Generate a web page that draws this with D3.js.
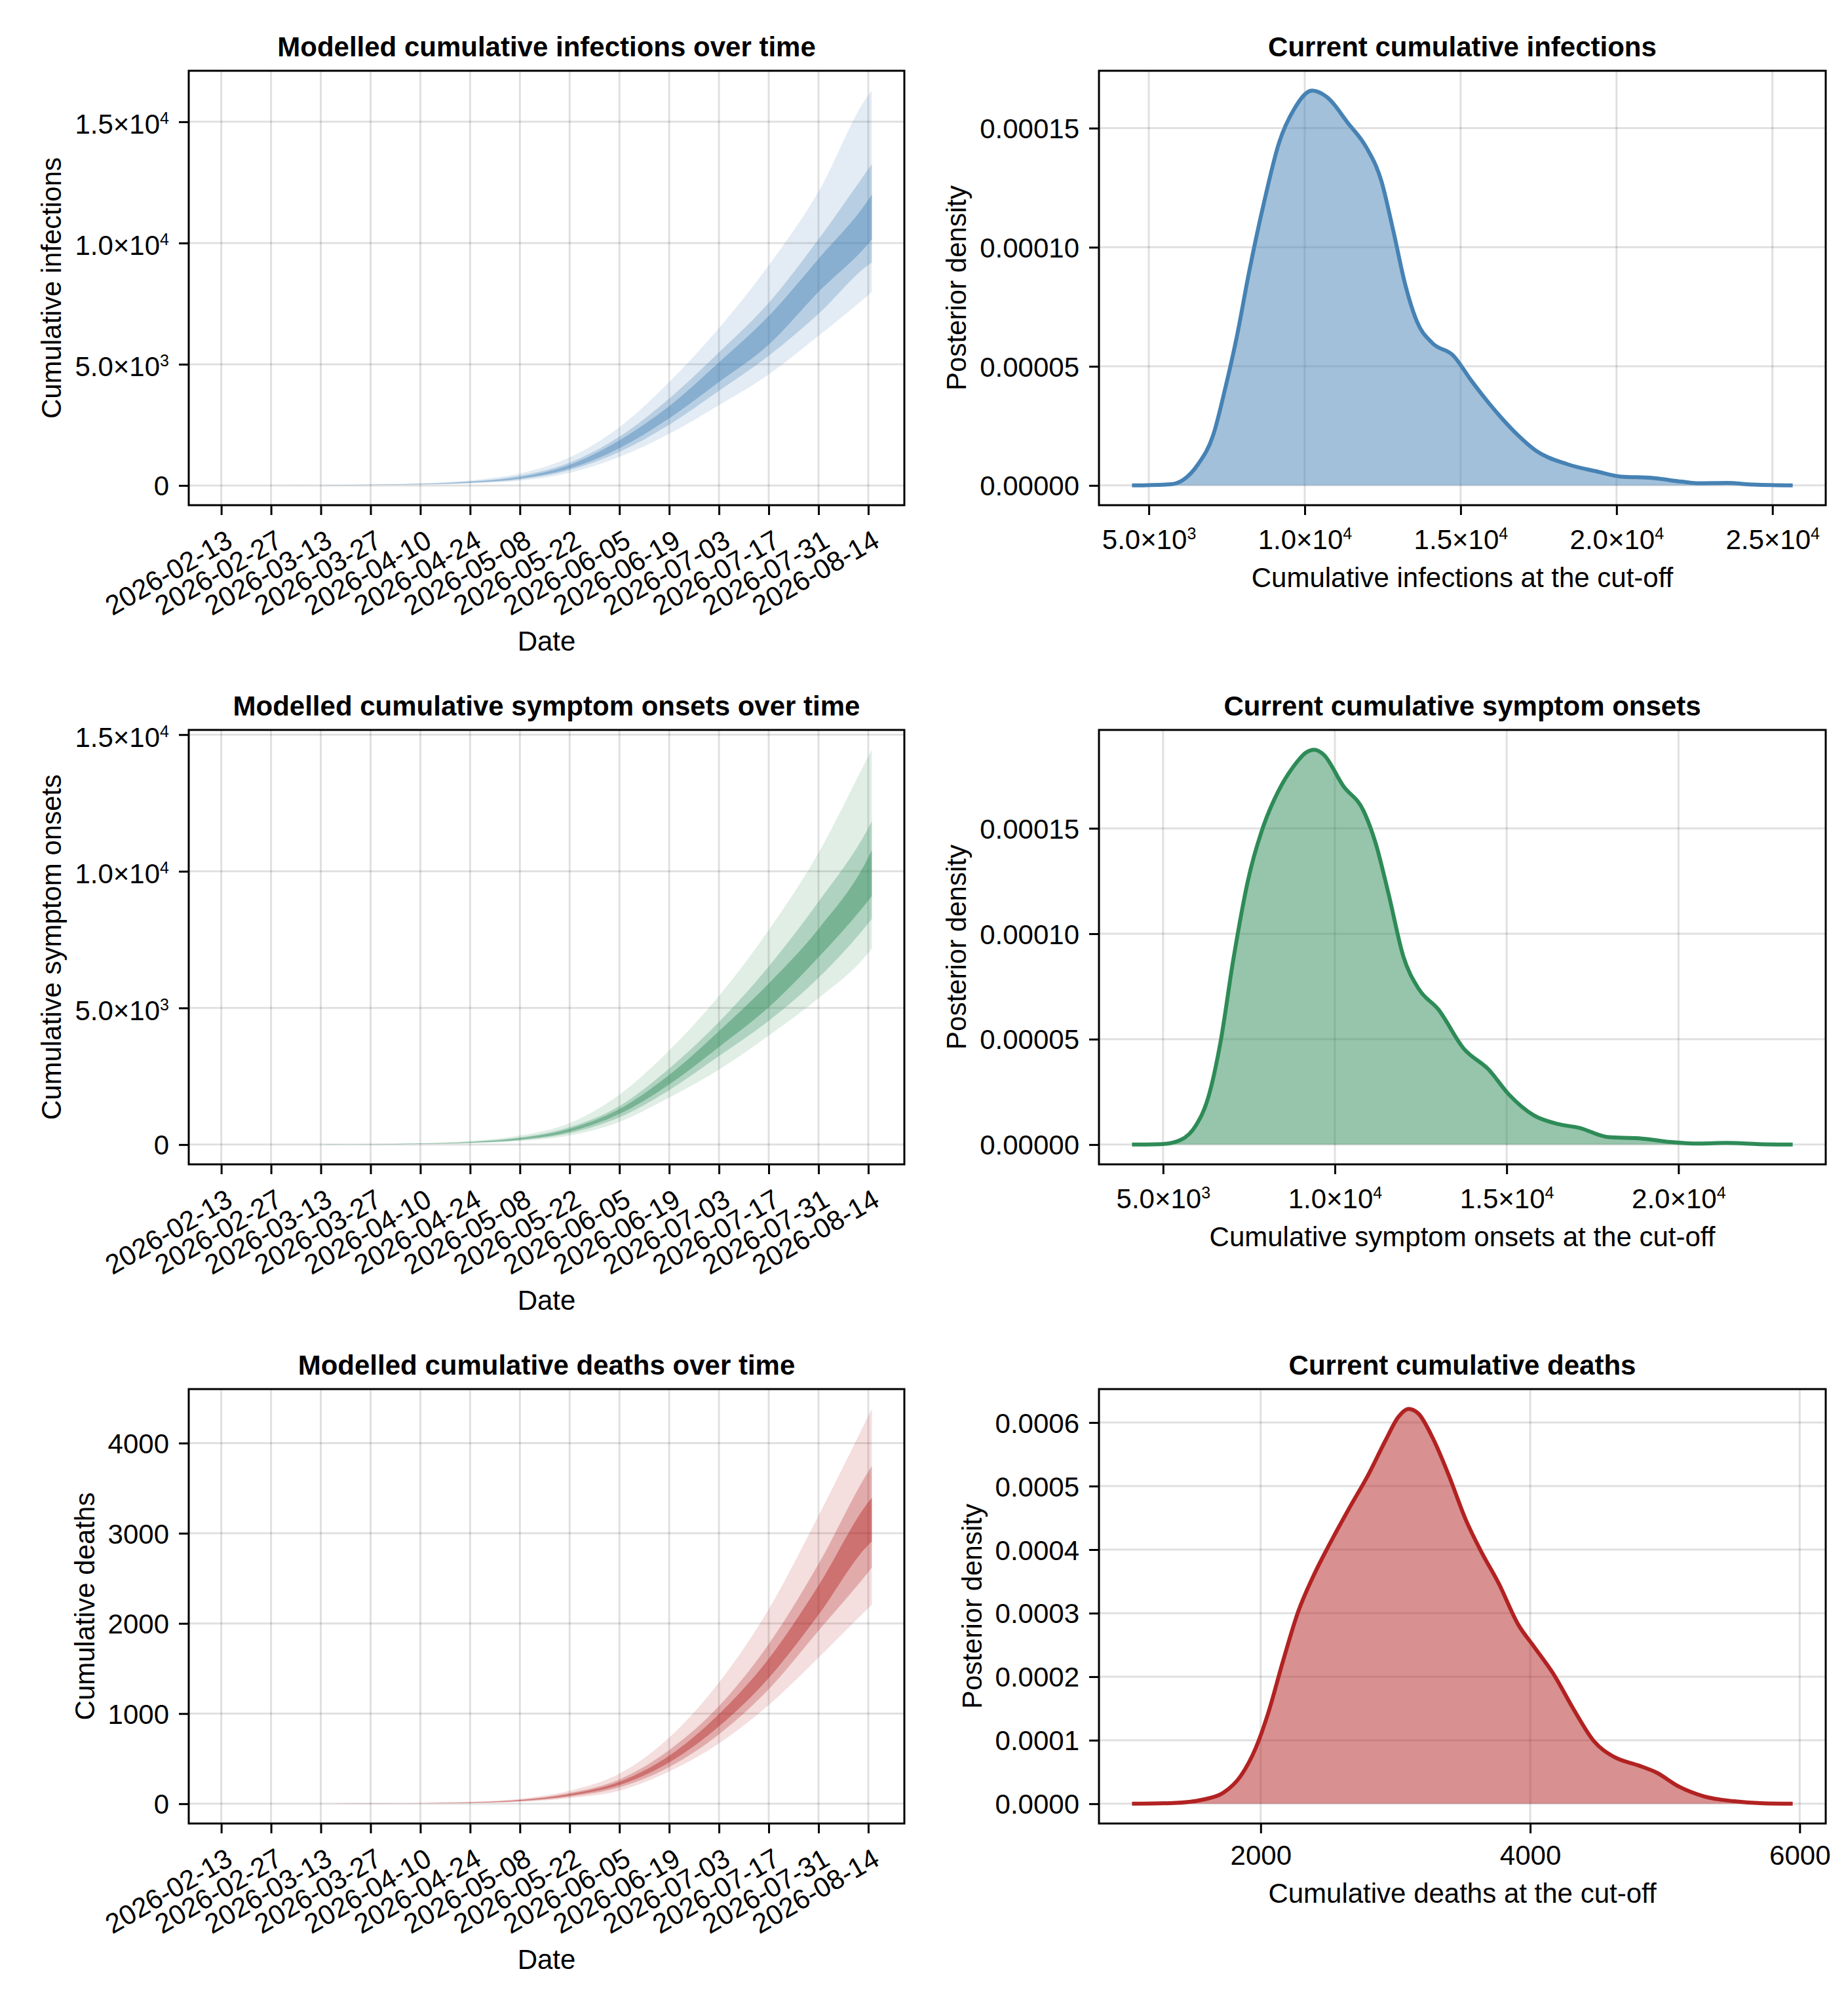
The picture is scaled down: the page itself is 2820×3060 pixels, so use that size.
<!DOCTYPE html>
<html>
<head>
<meta charset="utf-8">
<script src="https://cdn.jsdelivr.net/npm/d3@7"></script>
<style>
  body { margin: 0; background: #ffffff; }
  text { font-family: "Liberation Sans", Arial, Helvetica, sans-serif; }
</style>
</head>
<body>
<div id="chart"></div>
<script>
// dates of the modelled trajectories (every two weeks + final day)
const dates = ["2026-02-13", "2026-02-27", "2026-03-13", "2026-03-27", "2026-04-10", "2026-04-24",
  "2026-05-08", "2026-05-22", "2026-06-05", "2026-06-19", "2026-07-03", "2026-07-17",
  "2026-07-31", "2026-08-14", "2026-08-15"];
const dateTicks = dates.slice(0, 14);

// cumulative infections: quantile bands
const infOuterLo = [1, 3, 7, 16, 36, 85, 200, 520, 1180, 2130, 3310, 4580, 6170, 7850, 7975];
const infMidLo   = [1, 4, 9, 20, 45, 105, 250, 630, 1380, 2500, 3900, 5350, 7080, 9090, 9195];
const infInnerLo = [2, 4, 10, 23, 52, 120, 285, 700, 1540, 2770, 4265, 5810, 7985, 9970, 10145];
const infInnerHi = [2, 5, 12, 28, 62, 145, 345, 850, 1860, 3270, 5080, 6990, 9350, 11780, 12000];
const infMidHi   = [2, 6, 14, 32, 72, 170, 400, 940, 2015, 3585, 5490, 7530, 10160, 13050, 13260];
const infOuterHi = [3, 7, 17, 40, 90, 210, 500, 1160, 2405, 4265, 6490, 9075, 12115, 16100, 16290];

// cumulative symptom onsets: quantile bands
const onsOuterLo = [0.1, 0.5, 2, 6, 18, 50, 130, 332, 831, 1719, 2741, 3987, 5357, 7018, 7185];
const onsMidLo   = [0.2, 0.8, 3, 8, 23, 62, 160, 415, 997, 1993, 3239, 4527, 6105, 8098, 8264];
const onsInnerLo = [0.25, 1, 3.5, 10, 27, 72, 185, 473, 1121, 2201, 3571, 5025, 6852, 8929, 9095];
const onsInnerHi = [0.35, 1.4, 4.5, 13, 35, 92, 235, 581, 1304, 2550, 4153, 5897, 7890, 10507, 10773];
const onsMidHi   = [0.4, 1.7, 5.5, 15, 40, 105, 265, 640, 1412, 2782, 4485, 6520, 8887, 11586, 11836];
const onsOuterHi = [0.5, 2.2, 7, 20, 52, 135, 330, 789, 1827, 3447, 5440, 7849, 10673, 14200, 14450];

// cumulative deaths: quantile bands
const dthOuterLo = [0, 0.1, 0.3, 1, 3, 8, 22, 63, 145, 358, 670, 1095, 1620, 2170, 2208];
const dthMidLo   = [0.03, 0.12, 0.4, 1.2, 3.6, 10, 28, 78, 183, 408, 770, 1270, 1920, 2570, 2620];
const dthInnerLo = [0.04, 0.14, 0.45, 1.4, 4.2, 12, 32, 90, 208, 458, 858, 1395, 2095, 2870, 2908];
const dthInnerHi = [0.05, 0.18, 0.6, 1.8, 5.3, 15, 40, 108, 245, 533, 995, 1608, 2420, 3345, 3395];
const dthMidHi   = [0.06, 0.21, 0.7, 2, 6, 17, 45, 120, 270, 595, 1083, 1770, 2658, 3683, 3745];
const dthOuterHi = [0.08, 0.26, 0.85, 2.6, 7.5, 21, 56, 145, 333, 733, 1345, 2158, 3195, 4300, 4380];

// posterior densities at the cut-off
const infDensX = [4461, 5713, 6098, 6580, 7061, 7446, 7831, 8216, 8698, 9180, 9661, 10239, 10720, 11395,
  11972, 12454, 12839, 13224, 13610, 14091, 14765, 15343, 15921, 16692, 17462, 18425, 19388, 20159,
  21122, 22085, 22663, 23530, 24397, 25649];
const infDensY = [0, 0.0000005, 0.0000023, 0.0000089, 0.000021, 0.0000405, 0.000063, 0.0000896, 0.000119,
  0.000144, 0.000158, 0.0001658, 0.000163, 0.000152, 0.000142, 0.000128, 0.000107, 0.0000843, 0.0000685,
  0.0000598, 0.0000545, 0.000044, 0.0000343, 0.000023, 0.0000142, 0.0000089, 0.0000058, 0.0000037,
  0.0000032, 0.0000016, 0.0000009, 0.00000105, 0.00000035, 0];

const onsDensX = [4096, 5000, 5510, 5948, 6312, 6676, 7041, 7478, 7915, 8353, 8790, 9155, 9402, 9665,
  10248, 10831, 11195, 11560, 11997, 12434, 13017, 13746, 14475, 15058, 15787, 16516, 17099, 17974,
  18848, 19723, 20598, 21399, 22347, 23324];
const onsDensY = [0, 0.0000003, 0.0000022, 0.0000089, 0.0000222, 0.000049, 0.0000874, 0.0001258, 0.0001508,
  0.0001676, 0.0001792, 0.0001859, 0.0001873, 0.0001851, 0.00017, 0.0001584, 0.0001425, 0.0001191,
  0.000089, 0.000074, 0.000064, 0.0000456, 0.0000356, 0.0000239, 0.0000139, 0.0000097, 0.000008,
  0.0000035, 0.000003, 0.0000013, 0.0000005, 0.0000008, 0.0000002, 0];

const dthDensX = [1045, 1349, 1572, 1721, 1851, 1963, 2056, 2167, 2279, 2390, 2502, 2651, 2799, 2929,
  3022, 3097, 3171, 3283, 3394, 3524, 3636, 3766, 3914, 4026, 4175, 4323, 4472, 4621, 4807, 4937,
  5104, 5290, 5513, 5736, 5948];
const dthDensY = [0, 0.0000011, 0.0000066, 0.0000171, 0.0000436, 0.0000877, 0.0001429, 0.0002256, 0.0003028,
  0.000358, 0.000405, 0.000463, 0.000518, 0.000573, 0.000609, 0.0006216, 0.000614, 0.000573, 0.000518,
  0.000446, 0.000397, 0.000347, 0.000281, 0.000248, 0.0002035, 0.0001484, 0.0000987, 0.0000739,
  0.0000601, 0.0000491, 0.000027, 0.0000116, 0.0000039, 0.0000006, 0];

// tick values
const countTicksLarge = [0, 5000, 10000, 15000];
const countTicksDeaths = [0, 1000, 2000, 3000, 4000];
const densTicksInf = [0, 0.00005, 0.0001, 0.00015];
const densTicksDeaths = [0, 0.0001, 0.0002, 0.0003, 0.0004, 0.0005, 0.0006];
const xTicksInf = [5000, 10000, 15000, 20000, 25000];
const xTicksOns = [5000, 10000, 15000, 20000];
const xTicksDeaths = [2000, 4000, 6000];

// figure layout
const W = 2820, H = 3060;
const cols = [{left: 288, right: 1380}, {left: 1677, right: 2786}];
const rowTops = [108, 1114, 2120];
const axH = 663;
const fontPx = 42;
const gridColor = "rgba(0,0,0,0.12)";

const parseDate = d3.utcParse("%Y-%m-%d");
const fmtDate = d3.utcFormat("%Y-%m-%d");

const svg = d3.select("#chart")
  .append("svg")
    .attr("width", W)
    .attr("height", H)
    .style("background", "#ffffff");

function padded(lo, hi) {
  const r = hi - lo;
  return [lo - 0.05 * r, hi + 0.05 * r];
}

// write a number as "5.0×10³" with a real superscript
function sciLabel(text, v) {
  text.text(null);
  if (v === 0) { text.text("0"); return; }
  const e = Math.floor(Math.log10(v) + 1e-9);
  const m = v / Math.pow(10, e);
  text.append("tspan").text(m.toFixed(1) + "×10");
  text.append("tspan").attr("font-size", 25).attr("dy", -15).text(e);
}

function frame(g, w, h, title) {
  g.append("text")
    .attr("x", w / 2)
    .attr("y", -22)
    .attr("text-anchor", "middle")
    .attr("font-size", fontPx)
    .attr("font-weight", "bold")
    .text(title);
}

function spines(g, w, h) {
  g.append("rect")
    .attr("width", w)
    .attr("height", h)
    .attr("fill", "none")
    .attr("stroke", "#000")
    .attr("stroke-width", 3);
}

function grid(g, x, y, xt, yt, w, h) {
  g.append("g").selectAll("line").data(xt).enter().append("line")
    .attr("x1", d => x(d)).attr("x2", d => x(d))
    .attr("y1", 0).attr("y2", h)
    .attr("stroke", gridColor).attr("stroke-width", 3);
  g.append("g").selectAll("line").data(yt).enter().append("line")
    .attr("y1", d => y(d)).attr("y2", d => y(d))
    .attr("x1", 0).attr("x2", w)
    .attr("stroke", gridColor).attr("stroke-width", 3);
}

function styleAxis(ax) {
  ax.select(".domain").remove();
  ax.selectAll(".tick line").attr("stroke", "#000").attr("stroke-width", 3);
  ax.selectAll("text").attr("font-size", fontPx).attr("fill", "#000")
    .style("font-family", "'Liberation Sans', Arial, Helvetica, sans-serif");
}

function yAxis(g, y, ticks, fmt, sci, w, h, label) {
  const ax = g.append("g")
    .call(d3.axisLeft(y).tickValues(ticks).tickSize(15).tickPadding(15));
  styleAxis(ax);
  ax.selectAll(".tick text")
    .attr("x", -30)
    .attr("dy", null)
    .attr("y", d => (sci && d !== 0) ? 18 : 15)
    .each(function(d) {
      const t = d3.select(this);
      if (sci) sciLabel(t, d); else t.text(fmt(d));
    });
  let maxW = 0;
  ax.selectAll(".tick text").each(function() {
    maxW = Math.max(maxW, this.getComputedTextLength());
  });
  const lx = -30 - maxW - 21;
  g.append("text")
    .attr("transform", `translate(${lx}, ${h / 2}) rotate(-90)`)
    .attr("text-anchor", "middle")
    .attr("font-size", fontPx)
    .text(label);
}

function drawBandPanel(p) {
  const c = cols[0];
  const w = c.right - c.left;
  const g = svg.append("g").attr("transform", `translate(${c.left}, ${rowTops[p.row]})`);

  const rowsData = dates.map((d, i) => ({date: parseDate(d), i: i}));
  const x = d3.scaleUtc()
    .domain(padded(+parseDate(dates[0]), +parseDate(dates[dates.length - 1])))
    .range([0, w]);
  const allVals = p.bands.flat(2);
  const y = d3.scaleLinear()
    .domain(padded(d3.min(allVals), d3.max(allVals)))
    .range([axH, 0]);
  const xt = dateTicks.map(parseDate);

  frame(g, w, axH, p.title);
  grid(g, x, y, xt, p.yTicks, w, axH);

  const alphas = [0.15, 0.27, 0.42];
  p.bands.forEach((b, k) => {
    const area = d3.area()
      .x(d => x(d.date))
      .y0(d => y(b[0][d.i]))
      .y1(d => y(b[1][d.i]))
      .curve(d3.curveMonotoneX);
    g.append("path")
      .datum(rowsData)
      .attr("d", area)
      .attr("fill", p.color)
      .attr("fill-opacity", alphas[k]);
  });

  spines(g, w, axH);

  const ax = g.append("g")
    .attr("transform", `translate(0, ${axH})`)
    .call(d3.axisBottom(x).tickValues(xt).tickSize(15).tickFormat(fmtDate));
  styleAxis(ax);
  ax.selectAll(".tick text")
    .attr("y", null)
    .attr("dy", "0.35em")
    .attr("text-anchor", "end")
    .attr("transform", "translate(12, 49) rotate(-30)");

  g.append("text")
    .attr("x", w / 2)
    .attr("y", axH + 222)
    .attr("text-anchor", "middle")
    .attr("font-size", fontPx)
    .text("Date");

  yAxis(g, y, p.yTicks, d3.format("d"), p.sci, w, axH, p.ylab);
}

function drawDensityPanel(p) {
  const c = cols[1];
  const w = c.right - c.left;
  const g = svg.append("g").attr("transform", `translate(${c.left}, ${rowTops[p.row]})`);

  const pts = p.xs.map((v, i) => ({v: v, d: p.ys[i]}));
  const x = d3.scaleLinear()
    .domain(padded(d3.min(p.xs), d3.max(p.xs)))
    .range([0, w]);
  const y = d3.scaleLinear()
    .domain(padded(0, d3.max(p.ys)))
    .range([axH, 0]);

  frame(g, w, axH, p.title);
  grid(g, x, y, p.xTicks, p.yTicks, w, axH);

  g.append("path")
    .datum(pts)
    .attr("d", d3.area().x(d => x(d.v)).y0(y(0)).y1(d => y(d.d)).curve(d3.curveMonotoneX))
    .attr("fill", p.color)
    .attr("fill-opacity", 0.5);
  g.append("path")
    .datum(pts)
    .attr("d", d3.line().x(d => x(d.v)).y(d => y(d.d)).curve(d3.curveMonotoneX))
    .attr("fill", "none")
    .attr("stroke", p.color)
    .attr("stroke-width", 6)
    .attr("stroke-linejoin", "round");

  spines(g, w, axH);

  const ax = g.append("g")
    .attr("transform", `translate(0, ${axH})`)
    .call(d3.axisBottom(x).tickValues(p.xTicks).tickSize(15));
  styleAxis(ax);
  ax.selectAll(".tick text")
    .attr("dy", null)
    .attr("y", p.sci ? 67 : 63)
    .each(function(d) {
      const t = d3.select(this);
      if (p.sci) sciLabel(t, d); else t.text(d3.format("d")(d));
    });

  g.append("text")
    .attr("x", w / 2)
    .attr("y", axH + (p.sci ? 125 : 121))
    .attr("text-anchor", "middle")
    .attr("font-size", fontPx)
    .text(p.xlab);

  yAxis(g, y, p.yTicks, d3.format(`.${p.yDigits}f`), false, w, axH, "Posterior density");
}

drawBandPanel({row: 0, title: "Modelled cumulative infections over time", ylab: "Cumulative infections",
  color: "#4682b4", sci: true, yTicks: countTicksLarge,
  bands: [[infOuterLo, infOuterHi], [infMidLo, infMidHi], [infInnerLo, infInnerHi]]});
drawBandPanel({row: 1, title: "Modelled cumulative symptom onsets over time", ylab: "Cumulative symptom onsets",
  color: "#2e8b57", sci: true, yTicks: countTicksLarge,
  bands: [[onsOuterLo, onsOuterHi], [onsMidLo, onsMidHi], [onsInnerLo, onsInnerHi]]});
drawBandPanel({row: 2, title: "Modelled cumulative deaths over time", ylab: "Cumulative deaths",
  color: "#b22222", sci: false, yTicks: countTicksDeaths,
  bands: [[dthOuterLo, dthOuterHi], [dthMidLo, dthMidHi], [dthInnerLo, dthInnerHi]]});

drawDensityPanel({row: 0, title: "Current cumulative infections", xlab: "Cumulative infections at the cut-off",
  color: "#4682b4", xs: infDensX, ys: infDensY, xTicks: xTicksInf, yTicks: densTicksInf, sci: true, yDigits: 5});
drawDensityPanel({row: 1, title: "Current cumulative symptom onsets", xlab: "Cumulative symptom onsets at the cut-off",
  color: "#2e8b57", xs: onsDensX, ys: onsDensY, xTicks: xTicksOns, yTicks: densTicksInf, sci: true, yDigits: 5});
drawDensityPanel({row: 2, title: "Current cumulative deaths", xlab: "Cumulative deaths at the cut-off",
  color: "#b22222", xs: dthDensX, ys: dthDensY, xTicks: xTicksDeaths, yTicks: densTicksDeaths, sci: false, yDigits: 4});
</script>
</body>
</html>
